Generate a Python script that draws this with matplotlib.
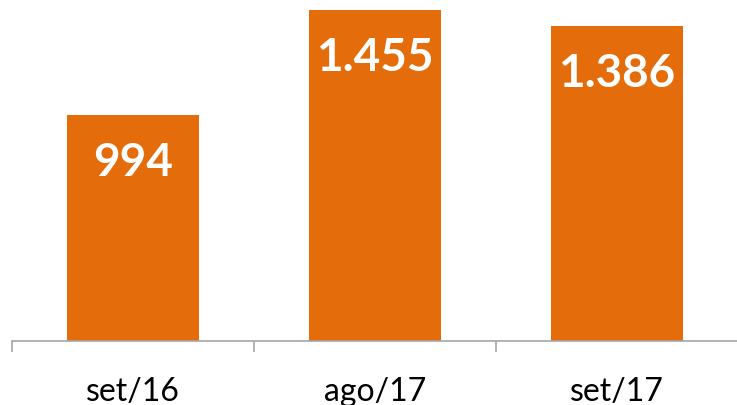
import matplotlib.pyplot as plt
from matplotlib.ticker import FixedLocator

# Data.
categories = ['set/16', 'ago/17', 'set/17']
values = [994, 1455, 1386]
value_labels = ['994', '1.455', '1.386']

plt.rcParams['font.family'] = ['Lato', 'DejaVu Sans']

fig = plt.figure(figsize=(7.37, 4.06), dpi=100)
ax = fig.add_axes([12 / 737, 64 / 406, 726 / 737, 342 / 406])

x = list(range(len(categories)))
bars = ax.bar(x, values, width=0.545, color='#E46C0A')

ax.set_xlim(-0.5, len(categories) - 0.5)
ax.set_ylim(0, 1504)

# Value labels inside the bars, near the top.
for rect, label in zip(bars, value_labels):
    ax.annotate(label, (rect.get_x() + rect.get_width() / 2, rect.get_height()),
                xytext=(0, -34), textcoords='offset points',
                ha='center', va='center', color='white',
                fontsize=33, fontweight='bold')

# Axis styling: only the bottom line with ticks between categories.
for side in ['top', 'right', 'left']:
    ax.spines[side].set_visible(False)
ax.spines['bottom'].set_color('#A6A6A6')
ax.spines['bottom'].set_linewidth(1.2)
ax.set_yticks([])

ax.xaxis.set_major_locator(FixedLocator([-0.5, 0.5, 1.5, 2.5]))
ax.xaxis.set_major_formatter(plt.NullFormatter())
ax.tick_params(axis='x', which='major', length=8, width=1.2, color='#A6A6A6')
ax.xaxis.set_minor_locator(FixedLocator(x))
ax.set_xticklabels(categories, minor=True)
ax.tick_params(axis='x', which='minor', length=0, pad=25, labelsize=23)

fig.savefig('out.png', dpi=100)
